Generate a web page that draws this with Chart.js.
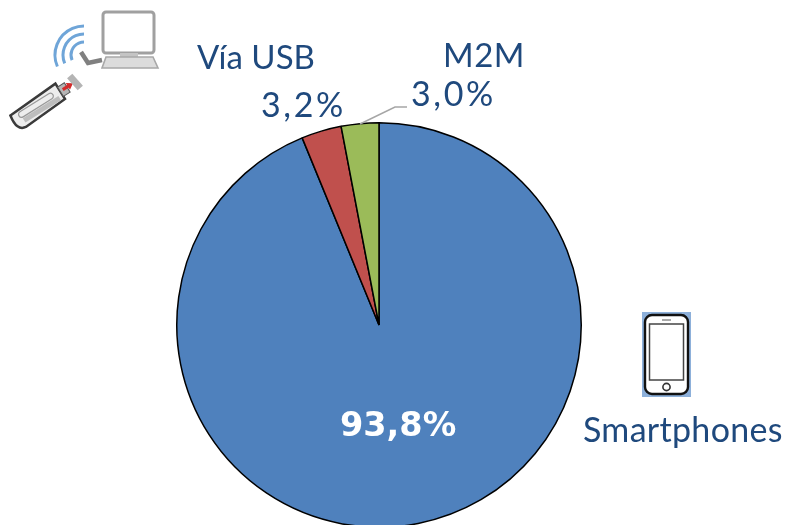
<!DOCTYPE html>
<html><head><meta charset="utf-8">
<style>html,body{margin:0;padding:0;background:#fff;overflow:hidden;width:786px;height:525px}canvas{display:block}</style>
<script src="https://cdn.jsdelivr.net/npm/chart.js@4"></script></head>
<body><canvas id="c" width="786" height="530" style="width:786px;height:530px"></canvas>
<script>
const categories=["Smartphones","Vía USB","M2M"];
const shares=[93.8,3.2,3.0];
const shareLabels=["93,8%","3,2%","3,0%"];
const sliceColors=["#4F81BD","#C0504D","#9BBB59"];
const TEXT="#1F497D";
const FONT='"Lato","Open Sans",sans-serif';

function txt(c,s,x,y,font,col,sp){c.font=font;c.fillStyle=col;c.textAlign="left";c.textBaseline="alphabetic";c.letterSpacing=(sp||0)+"px";c.fillText(s,x,y);c.letterSpacing="0px";}
function rr(c,x,y,w,h,r){c.beginPath();c.roundRect(x,y,w,h,r);}
function drawPhone(c){
  c.fillStyle="#8DB0DA";c.fillRect(642,312,49,85);
  c.fillStyle="#fff";rr(c,645,315,43,79,7);c.fill();
  c.strokeStyle="#111";c.lineWidth=2.4;c.stroke();
  c.strokeStyle="#444";c.lineWidth=1.5;c.strokeRect(649.5,324,34,56);
  c.strokeStyle="#555";c.lineWidth=1;c.beginPath();c.moveTo(662,320);c.lineTo(671,320);c.stroke();
  c.lineWidth=1.6;c.strokeStyle="#333";c.beginPath();c.arc(666.5,387,3.6,0,Math.PI*2);c.stroke();
}
function drawLaptop(c){
  c.filter="blur(0.7px)";
  c.strokeStyle="#A0A0A0";c.lineWidth=3;rr(c,103,12,51,41,3);c.fillStyle="#fff";c.fill();c.stroke();
  c.fillStyle="#C4C4C4";c.fillRect(120,53,18,4);
  c.fillStyle="#DCDCDC";c.strokeStyle="#A8A8A8";c.lineWidth=1.6;
  c.beginPath();c.moveTo(106,57);c.lineTo(153,57);c.lineTo(158,68);c.lineTo(102,68);c.closePath();c.fill();c.stroke();
  c.strokeStyle="#808080";c.lineWidth=4.5;c.beginPath();c.moveTo(81,52);c.lineTo(88,63);c.lineTo(102,60);c.stroke();
  c.strokeStyle="#6FA5D8";c.lineWidth=3;
  [13,21,29].forEach(r=>{c.beginPath();c.arc(84,55,r,Math.PI*0.87,Math.PI*1.5);c.stroke();});
  c.save();c.translate(37,107);c.rotate(-0.56);
  c.fillStyle="#EDEDED";c.strokeStyle="#3A3A3A";c.lineWidth=2.5;
  c.beginPath();c.moveTo(-27,-7);c.lineTo(28,-10);c.lineTo(28,8);c.lineTo(-20,11);c.quadraticCurveTo(-30,10,-27,-7);c.closePath();c.fill();c.stroke();
  c.fillStyle="#BDBDBD";c.fillRect(-18,2,42,5);
  c.strokeStyle="#999";c.lineWidth=1.2;rr(c,-20,-5,40,6,3);c.stroke();
  c.fillStyle="#B5B5B5";c.strokeStyle="#555";c.lineWidth=1;c.fillRect(28,-6,8,11);c.strokeRect(28,-6,8,11);
  c.restore();
  c.save();c.translate(67,87);c.rotate(-0.56);c.fillStyle="#D22B2B";c.beginPath();c.moveTo(-5,-1.6);c.lineTo(1,-1.6);c.lineTo(1,-4);c.lineTo(7,0);c.lineTo(1,4);c.lineTo(1,1.6);c.lineTo(-5,1.6);c.closePath();c.fill();c.restore();
  c.save();c.translate(75,82);c.rotate(0.85);c.fillStyle="#B4B4B4";c.fillRect(-8,-3.5,16,7);c.restore();
  c.filter="none";
}
const overlay={id:"overlay",afterDatasetsDraw(chart){
  const c=chart.ctx;c.save();
  c.strokeStyle="#A6A6A6";c.lineWidth=1.5;c.beginPath();c.moveTo(360,124);c.lineTo(395,107);c.lineTo(407,107);c.stroke();
  const f='33px '+FONT,n='34px '+FONT;
  txt(c,categories[1],197,69,f,TEXT);
  txt(c,shareLabels[1],261,117,n,TEXT,2.6);
  txt(c,categories[2],443,67,f,TEXT,0.5);
  txt(c,shareLabels[2],411,106,n,TEXT,2.6);
  txt(c,categories[0],583,442,'34px '+FONT,TEXT,0.3);
  txt(c,shareLabels[0],340,436,'bold 33.5px "DejaVu Sans",sans-serif',"#FFFFFF");
  drawPhone(c);drawLaptop(c);
  c.restore();
}};
new Chart(document.getElementById("c"),{
  type:"pie",
  data:{labels:categories,datasets:[{data:shares,backgroundColor:sliceColors,borderColor:"#000",borderWidth:1.5,borderAlign:"center"}]},
  options:{responsive:false,animation:false,
    layout:{padding:{left:176,right:204,top:122,bottom:2}},
    plugins:{legend:{display:false},tooltip:{enabled:false},title:{display:false}}},
  plugins:[overlay]
});
</script></body></html>
